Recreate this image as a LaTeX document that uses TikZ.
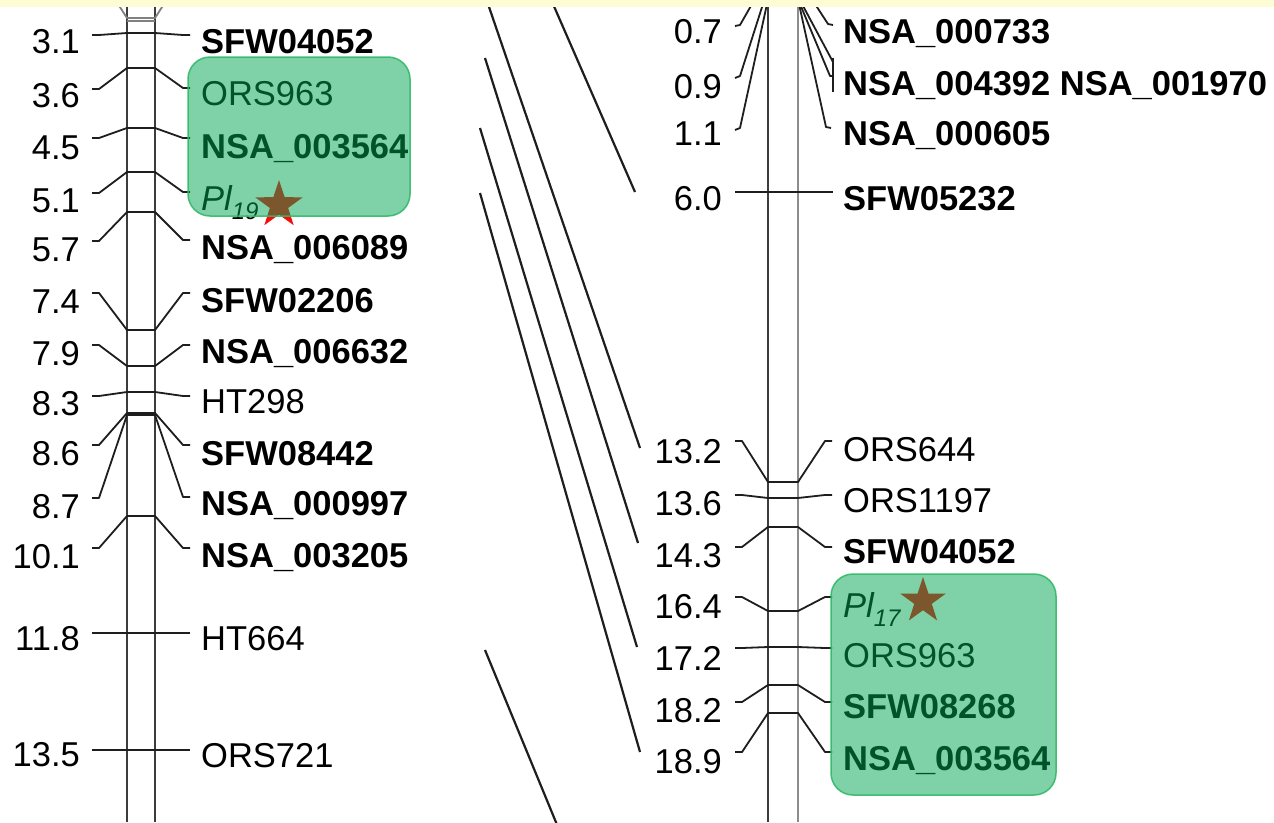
\documentclass[tikz,border=0pt]{standalone}
\usepackage{fontspec}
\setmainfont{Liberation Sans}
\usetikzlibrary{shapes.geometric}
\definecolor{conncol}{RGB}{30,30,30}
\definecolor{chromA}{RGB}{60,60,60}
\definecolor{chromB}{RGB}{140,140,140}
\definecolor{boxfill}{RGB}{0,165,80}
\definecolor{boxline}{RGB}{50,185,105}
\definecolor{starred}{RGB}{250,10,10}
\definecolor{band}{RGB}{254,252,212}
\tikzset{
  x=1pt, y=-1pt,
  conn/.style={line width=1.8pt, draw=conncol, line join=round},
  chromline/.style={line width=2.2pt, draw=chromA},
  diag/.style={line width=2.2pt, draw=conncol},
  num/.style={font=\fontsize{34.5}{36}\selectfont, inner sep=0pt, anchor=base east},
  mk/.style={font=\fontsize{34.5}{36}\selectfont, inner sep=0pt, anchor=base west},
  mkb/.style={font=\fontsize{34.5}{36}\selectfont\bfseries, inner sep=0pt, anchor=base west},
  mki/.style={font=\fontsize{34.5}{36}\selectfont\itshape, inner sep=0pt, anchor=base west},
  qtlbox/.style={rounded corners=22pt, fill=boxfill, fill opacity=0.5, draw=boxline, draw opacity=0.9, line width=1.5pt},
  starmark/.style={star, star points=5, star point ratio=2.6, inner sep=0pt, draw=none, fill=starred},
}
% left chromosome marker: tick y, left line y, right line y
\newcommand{\LMk}[3]{\draw[conn] (92,#2) -- (99,#2) -- (127,#1) -- (155,#1) -- (183,#3) -- (190,#3);}
% right chromosome marker
\newcommand{\RMk}[3]{\draw[conn] (735,#2) -- (742,#2) -- (768,#1) -- (798,#1) -- (825,#3) -- (832,#3);}
\begin{document}
\begin{tikzpicture}
\useasboundingbox (0,0) rectangle (1274,822);
\clip (0,0) rectangle (1274,822);
\fill[white] (0,0) rectangle (1274,822);

% chromosomes
\draw[chromline] (127,0) -- (127,822);
\draw[chromline] (155,0) -- (155,822);
\draw[chromline] (768,0) -- (768,822);
\draw[line width=2.6pt, draw=chromB] (798,0) -- (798,822);

% left chromosome markers
\draw[conn, draw=gray] (118,4) -- (127,18) -- (155,18) -- (164,4);
\draw[conn, draw=gray] (127,21) -- (155,21);
\LMk{33}{35}{35}
\LMk{68}{89}{88}
\LMk{128}{138}{138}
\LMk{172}{193}{192}
\LMk{212}{241}{240}
\LMk{330}{293}{293}
\LMk{366}{345}{345}
\LMk{392}{396}{396}
\LMk{413}{445}{445}
\LMk{415}{498}{497}
\LMk{516}{548}{548}
\draw[conn] (92,633) -- (190,633);
\draw[conn] (92,750) -- (190,750);

\node[num] (l31) at (80,53) {3.1};
\node[num] (l36) at (80,107) {3.6};
\node[num] (l45) at (80,159) {4.5};
\node[num] (l51) at (80,212) {5.1};
\node[num] (l57) at (80,261) {5.7};
\node[num] (l74) at (80,313) {7.4};
\node[num] (l79) at (80,365) {7.9};
\node[num] (l83) at (80,415) {8.3};
\node[num] (l86) at (80,465) {8.6};
\node[num] (l87) at (80,518) {8.7};
\node[num] (l101) at (80,568) {10.1};
\node[num] (l118) at (80,650) {11.8};
\node[num] (l135) at (80,766) {13.5};

\node[mkb] (m1) at (201,53) {SFW04052};
\node[mk]  (m2) at (201,105) {ORS963};
\node[mkb] (m3) at (201,158) {NSA\_003564};
\node[mki] (m4) at (201,210) {Pl\raisebox{-9pt}{\fontsize{24}{24}\selectfont 19}};
\node[mkb] (m5) at (201,259) {NSA\_006089};
\node[mkb] (m6) at (201,312) {SFW02206};
\node[mkb] (m7) at (201,363) {NSA\_006632};
\node[mk]  (m8) at (201,413) {HT298};
\node[mkb] (m9) at (201,465) {SFW08442};
\node[mkb] (m10) at (201,515) {NSA\_000997};
\node[mkb] (m11) at (201,567) {NSA\_003205};
\node[mk]  (m12) at (201,650) {HT664};
\node[mk]  (m13) at (201,767) {ORS721};

% right chromosome markers
\draw[conn] (735,26) -- (740,25) -- (752,4);
\draw[conn] (735,78) -- (740,76) -- (763,4);
\draw[conn] (735,130) -- (740,128) -- (767,4);
\draw[conn] (815,4) -- (828,24) -- (833,25);
\draw[conn] (802,4) -- (833,62);
\draw[conn] (800,4) -- (830,76) -- (833,76);
\draw[conn] (833,58) -- (833,92);
\draw[conn] (799,4) -- (826,127) -- (831,128);
\draw[conn] (735,192) -- (833,192);
\RMk{482}{441}{441}
\RMk{498}{495}{495}
\RMk{527}{547}{547}
\RMk{611}{597}{597}
\RMk{647}{648}{648}
\RMk{685}{702}{702}
\RMk{713}{752}{752}

\node[num] (r07) at (722,43) {0.7};
\node[num] (r09) at (722,98) {0.9};
\node[num] (r11) at (722,145) {1.1};
\node[num] (r60) at (722,210) {6.0};
\node[num] (r132) at (722,463) {13.2};
\node[num] (r136) at (722,515) {13.6};
\node[num] (r143) at (722,567) {14.3};
\node[num] (r164) at (722,618) {16.4};
\node[num] (r172) at (722,670) {17.2};
\node[num] (r182) at (722,722) {18.2};
\node[num] (r189) at (722,773) {18.9};

\node[mkb] (s1) at (843,43) {NSA\_000733};
\node[mkb] (s2) at (843,95) {NSA\_004392 NSA\_001970};
\node[mkb] (s3) at (843,145) {NSA\_000605};
\node[mkb] (s4) at (843,210) {SFW05232};
\node[mk]  (s5) at (843,461) {ORS644};
\node[mk]  (s6) at (843,512) {ORS1197};
\node[mkb] (s7) at (843,563) {SFW04052};
\node[mki] (s8) at (843,617) {Pl\raisebox{-9pt}{\fontsize{24}{24}\selectfont 17}};
\node[mk]  (s9) at (843,667) {ORS963};
\node[mkb] (s10) at (843,718) {SFW08268};
\node[mkb] (s11) at (843,770) {NSA\_003564};

% homology lines between maps
\coordinate (d1a) at (553,4);   \coordinate (d1b) at (635,192);
\coordinate (d2a) at (488,4);   \coordinate (d2b) at (640,448);
\coordinate (d3a) at (485,58);  \coordinate (d3b) at (638,543);
\coordinate (d4a) at (480,128); \coordinate (d4b) at (637,647);
\coordinate (d5a) at (480,193); \coordinate (d5b) at (640,752);
\coordinate (d6a) at (485,650); \coordinate (d6b) at (560,832);
\draw[diag] (d1a) -- (d1b);
\draw[diag] (d2a) -- (d2b);
\draw[diag] (d3a) -- (d3b);
\draw[diag] (d4a) -- (d4b);
\draw[diag] (d5a) -- (d5b);
\draw[diag] (d6a) -- (d6b);

% stars (under the translucent boxes)
\node[starmark, minimum size=50pt] (st19) at (279,205) {};
\node[starmark, minimum size=48pt] (st17) at (923,601) {};

% QTL boxes
\draw[qtlbox] (188,57) rectangle (410,216);
\draw[qtlbox] (831,574) rectangle (1056,795);

% top band
\fill[band] (0,0) rectangle (1274,7);
\end{tikzpicture}
\end{document}
